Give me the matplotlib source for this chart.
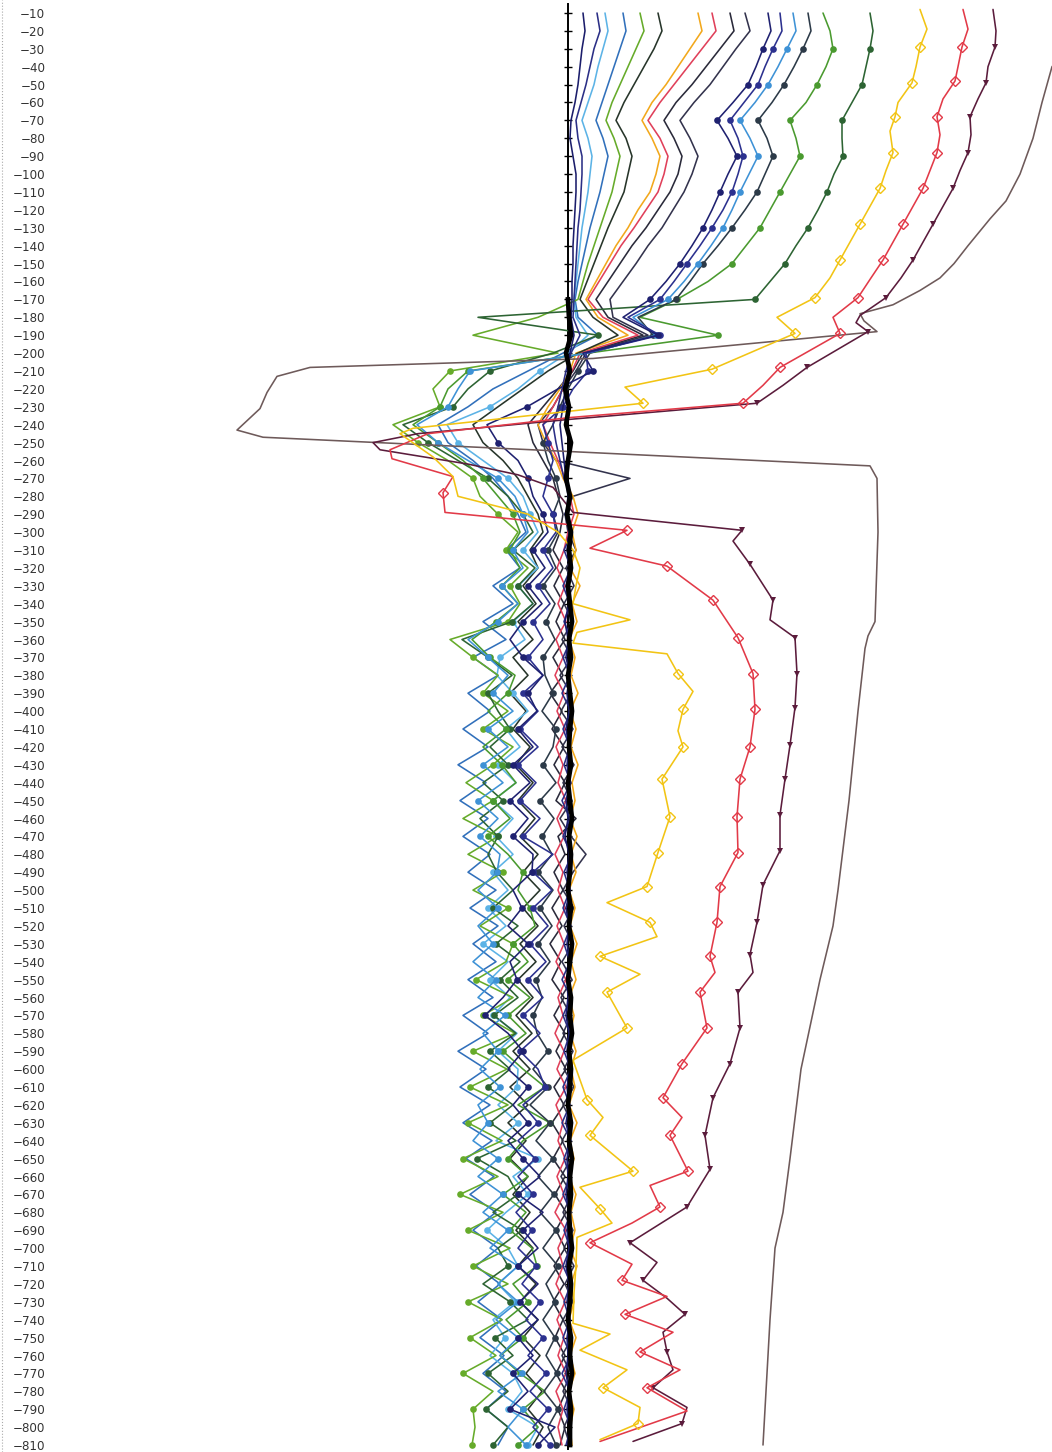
import numpy as np
import matplotlib
matplotlib.use("Agg")
import matplotlib.pyplot as plt
from matplotlib.lines import Line2D

# -- Depth grid (m) shared by the regular profiles -------------------------------
depth = np.arange(-10, -811, -10)

# -- Cumulative displacement per reading (0.1 mm), one value per depth step ------
zero_core = [0, 0, 0, 0, 0, 0, 0, 0, 0, 0,
             0, 0, 0, 0, 0, 0, 0, 1, 3, -2,
             2, -3, 1, -2, 3, 0, -2, 2, -1, 3,
             1, 3, 0, 2, 4, 1, 3, 0, 2, 4,
             2, 1, 3, 0, 2, 4, 1, 3, 2, 0,
             3, 1, 4, 2, 0, 3, 2, 4, 1, 3,
             2, 0, 3, 1, 4, 2, 3, 1, 2, 4,
             1, 3, 2, 0, 3, 2, 4, 1, 3, 2,
             2]

navy_1 = [15, 17, 14, 12, 10, 7, 3, 2, 5, 8,
          8, 7, 6, 5, 5, 4, 4, 3, 6, 2,
          0, -3, -5, -8, -6, -4, -2, 0, -2, 1,
          -1, 2, -2, 1, -3, 0, -2, 2, -1, 1,
          -2, 1, -1, 2, -2, 0, -3, 1, -1, 2,
          -2, 1, -1, 2, -1, 0, -2, 1, -1, 2,
          -1, 1, -2, 2, -1, 0, -2, 1, -1, 1,
          -2, 1, -1, 2, -1, 0, -2, 1, -1, 1,
          0]

blue_2 = [29, 32, 26, 22, 18, 13, 8, 10, 14, 14,
          13, 12, 10, 9, 8, 7, 6, 5, 12, 3,
          -2, -6, -10, -15, -12, -8, -4, 3, -3, 4,
          -4, 3, -5, 2, -4, 3, -5, 2, -6, 3,
          -5, 2, -4, 3, -6, 2, -5, 4, -4, 2,
          -5, 3, -4, 2, -6, 3, -5, 2, -4, 3,
          -5, 2, -6, 3, -4, 2, -5, 3, -4, 2,
          -5, 3, -4, 2, -5, 3, -6, 2, -4, 3,
          -2]

sky_3 = [37, 40, 35, 30, 26, 20, 14, 20, 24, 22,
         20, 17, 14, 12, 10, 8, 6, 8, 20, 0,
         -28, -50, -78, -121, -110, -85, -60, -45, -38, -30,
         -45, -30, -50, -35, -55, -43, -68, -71, -55, -40,
         -62, -48, -70, -52, -75, -55, -72, -55, -75, -60,
         -80, -62, -85, -60, -78, -58, -75, -51, -70, -50,
         -51, -70, -50, -72, -30, -55, -40, -62, -81, -60,
         -50, -70, -53, -75, -63, -78, -55, -46, -60, -30,
         -40]

steel_4 = [55, 58, 52, 46, 40, 34, 28, 35, 40, 36,
           32, 27, 22, 18, 14, 10, 7, 10, 30, -5,
           -40, -75, -100, -130, -120, -95, -75, -60, -50, -42,
           -62, -48, -75, -55, -85, -62, -95, -70, -100, -78,
           -105, -80, -110, -82, -108, -80, -105, -78, -100, -72,
           -98, -70, -95, -72, -100, -75, -105, -80, -110, -82,
           -108, -78, -105, -76, -102, -74, -98, -72, -95, -70,
           -92, -68, -90, -66, -88, -64, -85, -62, -82, -60,
           -70]

green_5 = [72, 76, 68, 60, 52, 44, 38, 46, 52, 48,
           44, 38, 32, 26, 20, 15, 10, -30, -95, -10,
           -118, -135, -128, -175, -150, -120, -95, -88, -70, -50,
           -62, -40, -58, -48, -60, -118, -95, -70, -85, -60,
           -85, -55, -75, -102, -75, -105, -70, -100, -65, -95,
           -60, -88, -55, -62, -92, -55, -85, -53, -95, -61,
           -98, -60, -100, -66, -105, -70, -108, -65, -100, -58,
           -95, -60, -100, -66, -98, -72, -105, -75, -95, -93,
           -96]

dark_6 = [90, 94, 86, 76, 66, 56, 48, 58, 64, 60,
          56, 48, 40, 33, 26, 19, 12, 25, 50, 10,
          -20, -45, -70, -95, -85, -65, -50, -40, -30, -25,
          -38, -30, -45, -32, -50, -35, -55, -40, -58, -42,
          -55, -38, -52, -35, -50, -33, -48, -30, -45, -28,
          -45, -30, -48, -32, -50, -35, -52, -36, -55, -38,
          -58, -40, -60, -42, -58, -40, -55, -38, -52, -35,
          -50, -32, -48, -30, -45, -28, -42, -26, -40, -25,
          -35]

orange_7 = [130, 134, 122, 110, 98, 84, 74, 84, 92, 88,
            82, 70, 60, 48, 38, 28, 18, 30, 60, 8,
            2, -8, -20, -30, -22, -12, -5, 5, 10, 4,
            8, 2, 12, 4, 9, 1, 7, 3, 10, 2,
            8, 3, 10, 4, 7, 2, 9, 3, 8, 1,
            7, 2, 9, 3, 8, 1, 6, 2, 8, 3,
            7, 1, 9, 2, 6, 1, 8, 3, 7, 2,
            9, 3, 6, 1, 8, 2, 7, 1, 6, 2,
            4]

pink_8 = [144, 148, 134, 120, 106, 92, 80, 92, 100, 96,
          90, 78, 66, 53, 42, 31, 20, 35, 70, 12,
          4, -5, -15, -25, -18, -10, -3, 2, 6, 0,
          -4, -11, -3, -10, -2, -12, -5, -13, -4, -11,
          -3, -12, -5, -10, -2, -11, -4, -13, -5, -10,
          -3, -11, -4, -12, -2, -10, -5, -13, -4, -11,
          -2, -12, -5, -10, -3, -11, -4, -13, -2, -10,
          -5, -12, -3, -11, -4, -10, -2, -12, -5, -10,
          -6]

dark_9 = [162, 166, 152, 138, 124, 108, 96, 106, 114, 110,
          102, 90, 78, 64, 52, 40, 28, 40, 75, 15,
          5, -10, -25, -40, -35, -25, -15, -10, -5, -8,
          -15, -5, -14, -4, -12, -3, -15, -5, -18, -6,
          -16, -4, -14, -3, -12, 8, -10, -3, -14, -5,
          -16, -6, -18, -7, -16, -4, -14, -3, -12, -2,
          -14, -4, -16, -5, -15, -3, -13, -2, -12, -3,
          -14, -4, -15, -5, -13, -3, -12, -2, -10, -3,
          -8]

dark_10 = [177, 182, 168, 155, 142, 126, 112, 122, 130, 124,
           116, 105, 94, 80, 68, 55, 42, 45, 80, 18,
           8, -5, -15, -30, -25, -12, 62, 5, -3, 0,
           8, -2, 6, -4, 5, -6, 4, -8, 3, -7,
           5, -6, 6, -5, 4, -8, 3, 18, 5, -5,
           6, -4, 5, -6, 4, -7, 3, -5, 5, -4,
           6, -5, 4, -6, 3, -7, 4, -5, 5, -4,
           6, -3, 5, -5, 4, -6, 3, -5, 4, -4,
           2]

navy_11 = [200, 203, 195, 188, 180, 165, 149, 160, 169, 160,
           152, 144, 135, 124, 112, 98, 82, 55, 90, 15,
           25, -10, -41, -81, -70, -50, -40, -35, -25, -20,
           -35, -23, -40, -26, -45, -58, -45, -25, -40, -31,
           -50, -35, -55, -38, -58, -40, -55, -35, -36, -55,
           -46, -60, -40, -58, -51, -65, -83, -60, -45, -60,
           -40, -55, -40, -60, -45, -28, -50, -25, -45, -30,
           -50, -30, -48, -30, -50, -35, -55, -40, -58, -13,
           -30]

navy_12 = [212, 214, 205, 197, 190, 176, 162, 170, 175, 170,
           164, 155, 144, 132, 119, 106, 92, 60, 92, 18,
           20, 5, -5, -25, -20, -15, -20, -25, -15, -12,
           -25, -15, -30, -18, -35, -25, -40, -25, -45, -30,
           -48, -30, -50, -32, -48, -28, -45, -15, -35, -16,
           -35, -20, -38, -22, -40, -25, -45, -28, -48, -30,
           -23, -45, -30, -50, -33, -50, -35, -52, -36, -50,
           -32, -46, -28, -42, -25, -40, -22, -38, -20, -35,
           -18]

sky_13 = [225, 228, 219, 210, 200, 187, 172, 182, 190, 181,
          172, 164, 155, 143, 130, 116, 100, 65, 88, 20,
          -98, -110, -120, -151, -130, -100, -70, -53, -45, -40,
          -55, -45, -66, -50, -70, -100, -80, -60, -75, -55,
          -80, -60, -85, -65, -90, -70, -88, -68, -71, -90,
          -70, -90, -75, -95, -72, -90, -63, -85, -70, -88,
          -68, -90, -80, -95, -70, -90, -65, -85, -60, -78,
          -50, -70, -50, -72, -50, -68, -46, -70, -45, -60,
          -42]

slate_14 = [240, 243, 235, 226, 216, 204, 190, 199, 205, 197,
            189, 177, 164, 150, 135, 122, 108, 70, 85, 22,
            10, 0, -8, -15, -25, -20, -12, -8, -15, -10,
            -20, -12, -25, -13, -22, -13, -25, -23, -15, -26,
            -12, -15, -25, -12, -28, -14, -26, -16, -30, -15,
            -28, -16, -30, -18, -32, -26, -35, -31, -20, -35,
            -20, -38, -18, -32, -15, -30, -14, -28, -12, -25,
            -10, -22, -13, -25, -13, -22, -11, -24, -10, -20,
            -12]

green_15 = [255, 262, 265, 258, 249, 238, 222, 228, 232, 222,
            212, 202, 192, 178, 164, 140, 109, 72, 150, 20,
            -100, -120, -128, -155, -130, -105, -85, -70, -55, -48,
            -58, -48, -66, -50, -72, -96, -78, -53, -60, -80,
            -62, -85, -66, -52, -75, -58, -80, -60, -45, -50,
            -38, -33, -55, -40, -60, -38, -60, -42, -65, -45,
            -23, -50, -18, -45, -60, -40, -65, -42, -58, -36,
            -31, -55, -40, -62, -45, -68, -48, -23, -45, -30,
            -50]

forest_16 = [302, 305, 302, 298, 294, 284, 274, 274, 275, 266,
             259, 250, 240, 228, 217, 202, 187, -90, 30, -15,
             -78, -100, -115, -165, -140, -110, -80, -60, -45, -35,
             -55, -33, -50, -35, -56, -106, -80, -56, -80, -70,
             -58, -78, -60, -85, -65, -88, -70, -80, -71, -55,
             -75, -50, -72, -48, -68, -50, -74, -52, -78, -58,
             -80, -55, -78, -52, -91, -60, -50, -75, -46, -70,
             -60, -85, -58, -40, -73, -55, -80, -60, -82, -60,
             -75]

# -- Readings with their own depth stations --------------------------------------
yellow_depth = [-8, -19, -29, -40, -49, -60, -68, -76, -88, -98,
                -108, -118, -128, -138, -148, -158, -169, -180, -189, -209,
                -219, -228, -242, -245, -258, -269, -280, -290, -300, -310,
                -320, -330, -340, -349, -356, -362, -368, -379, -389, -399,
                -411, -420, -438, -459, -479, -498, -507, -518, -526, -537,
                -547, -557, -577, -595, -617, -627, -637, -657, -666, -678,
                -686, -694, -710, -725, -742, -748, -757, -768, -778, -789,
                -798, -807]
yellow_x = [352, 359, 352, 348, 344, 330, 327, 322, 325, 318,
            312, 302, 292, 282, 272, 262, 247, 209, 227, 144,
            57, 75, -155, -168, -135, -115, -110, -40, -10, 5,
            12, 8, 5, 62, 9, 5, 99, 110, 125, 115,
            110, 115, 94, 102, 90, 79, 39, 82, 89, 32,
            72, 39, 59, 5, 19, 35, 22, 65, 12, 32,
            44, 9, 8, 6, 5, 42, 12, 59, 35, 72,
            70, 32]
yellow_marks = [2, 4, 6, 8, 10, 12, 14, 16, 18, 19, 21, 37, 39, 41, 42, 43,
                44, 45, 47, 49, 51, 52, 54, 56, 57, 59, 68, 70]

red_depth = [-8, -19, -29, -40, -48, -58, -68, -78, -88, -98,
             -108, -118, -128, -138, -148, -158, -169, -180, -189, -208,
             -218, -228, -236, -245, -254, -259, -269, -278, -289, -296,
             -299, -309, -319, -338, -359, -379, -399, -420, -438, -459,
             -479, -498, -518, -537, -546, -557, -577, -597, -616, -627,
             -637, -657, -665, -677, -686, -697, -709, -718, -727, -737,
             -747, -758, -768, -778, -791, -808]
red_x = [395, 400, 394, 390, 387, 375, 369, 372, 369, 362,
         355, 345, 335, 325, 315, 303, 290, 265, 272, 212,
         195, 175, 2, -140, -178, -176, -115, -125, -123, 5,
         59, 22, 99, 145, 170, 185, 187, 182, 172, 169,
         170, 152, 149, 142, 147, 132, 139, 114, 95, 114,
         102, 120, 82, 92, 64, 22, 64, 54, 99, 57,
         105, 72, 112, 79, 119, 32]
red_marks = [2, 4, 6, 8, 10, 12, 14, 16, 18, 19, 21, 27, 30, 32, 33, 34, 35,
             36, 37, 38, 39, 40, 41, 42, 43, 45, 46, 47, 48, 50, 51, 53, 55,
             57, 59, 61, 63]

maroon_depth = [-8, -20, -29, -40, -49, -58, -68, -78, -88, -98,
                -108, -118, -128, -138, -148, -158, -169, -179, -183, -188,
                -208, -218, -228, -237, -245, -250, -254, -262, -268, -275,
                -289, -299, -305, -318, -338, -349, -359, -379, -398, -419,
                -438, -458, -478, -497, -518, -536, -546, -557, -577, -597,
                -616, -637, -656, -677, -697, -708, -718, -728, -737, -747,
                -758, -768, -778, -789, -798, -808]
maroon_x = [425, 428, 427, 420, 418, 410, 402, 403, 400, 392,
            385, 375, 365, 355, 345, 333, 318, 292, 288, 300,
            239, 215, 189, 2, -150, -195, -188, -100, -50, -15,
            5, 174, 165, 182, 205, 202, 227, 229, 227, 222,
            217, 212, 212, 195, 189, 182, 185, 170, 172, 162,
            145, 137, 142, 119, 62, 89, 75, 99, 117, 95,
            99, 105, 85, 119, 114, 65]
maroon_marks = [2, 4, 6, 8, 10, 12, 14, 16, 19, 20, 22, 31, 33, 34, 36, 37,
                38, 39, 40, 41, 42, 43, 44, 45, 47, 48, 49, 50, 51, 52, 53,
                54, 56, 58, 60, 62, 64]

grey_depth = [-10, -30, -40, -60, -80, -100, -115, -125, -140, -150,
              -158, -165, -173, -178, -182, -188, -203, -208, -213, -222,
              -231, -243, -247, -255, -263, -270, -300, -350, -358, -365,
              -400, -450, -500, -520, -550, -600, -650, -680, -700, -740,
              -770, -810]
grey_x = [530, 500, 484, 474, 465, 452, 438, 422, 400, 386,
          372, 352, 325, 292, 296, 309, 25, -258, -291, -301,
          -308, -331, -305, 2, 302, 309, 310, 307, 300, 297,
          290, 281, 270, 265, 252, 233, 222, 215, 207, 202,
          199, 195]

# -- Styles ------------------------------------------------------------------------
line_kw = dict(lw=1.15, solid_joinstyle="round", solid_capstyle="round")
dot_kw = dict(marker="o", markersize=4.8, markeredgewidth=0)

grid_profiles = [
    # values, colour, markers from index (None = no markers)
    (dark_10, "#33334d", None),
    (dark_9, "#2a2a3a", None),
    (pink_8, "#e0405a", None),
    (orange_7, "#f2a81c", None),
    (dark_6, "#27352a", None),
    (steel_4, "#3170bb", None),
    (sky_3, "#5cb3e6", 20),
    (green_5, "#66ab2a", 20),
    (forest_16, "#2d6433", 2),
    (green_15, "#4a9a2f", 2),
    (slate_14, "#2c3a48", 2),
    (sky_13, "#3e92d6", 2),
    (navy_12, "#2c318f", 2),
    (navy_11, "#1f2170", 2),
    (blue_2, "#2b2f86", None),
    (navy_1, "#1b1d6b", None),
]

fig = plt.figure(figsize=(10.52, 14.52), dpi=100)
ax = fig.add_axes([55 / 1052, 0, 997 / 1052, 1])
ax.set_xlim(-513, 484)
ax.set_ylim(-813.9, -2.74)

# zero reference with a tick every 10 m
ax.plot([0, 0], [-5, -812], color="black", lw=1.4, zorder=2)
ax.plot(np.zeros(len(depth)), depth, ls="none", marker="_", markersize=6,
        markeredgewidth=1.0, color="black", zorder=2)

for values, colour, mark_from in grid_profiles:
    kw = dict(line_kw)
    if mark_from is not None:
        kw.update(dot_kw, markevery=slice(mark_from, None, 2))
    ax.plot(values, depth, color=colour, zorder=3, **kw)

ax.plot(grey_x, grey_depth, color="#6e5a5a", zorder=3, **line_kw)
ax.plot(maroon_x, maroon_depth, color="#5b1c3c", marker="v", markersize=4.5,
        markeredgewidth=0, markevery=maroon_marks, zorder=4, **line_kw)
ax.plot(red_x, red_depth, color="#e23a48", marker="D", markersize=5,
        markerfacecolor="none", markeredgewidth=1.0, markevery=red_marks,
        zorder=4, **line_kw)
ax.plot(yellow_x, yellow_depth, color="#f2c414", marker="D", markersize=5,
        markerfacecolor="none", markeredgewidth=1.0, markevery=yellow_marks,
        zorder=4, **line_kw)

# dense bundle of early readings sitting on the reference line
ax.plot(zero_core[16:], depth[16:], color="black", lw=3.4,
        solid_joinstyle="round", zorder=5)

ax.set_yticks(depth)
ax.set_yticklabels([f"\u2212{abs(d):d}" for d in depth])
ax.tick_params(axis="y", length=0, pad=7, labelsize=8.6, labelcolor="#333333")
ax.set_xticks([])
for side in ax.spines.values():
    side.set_visible(False)

fig.add_artist(Line2D([2 / 1052, 2 / 1052], [0, 1], transform=fig.transFigure,
                      ls=":", lw=0.8, color="#aaaaaa"))

fig.savefig("out.png", dpi=100)
